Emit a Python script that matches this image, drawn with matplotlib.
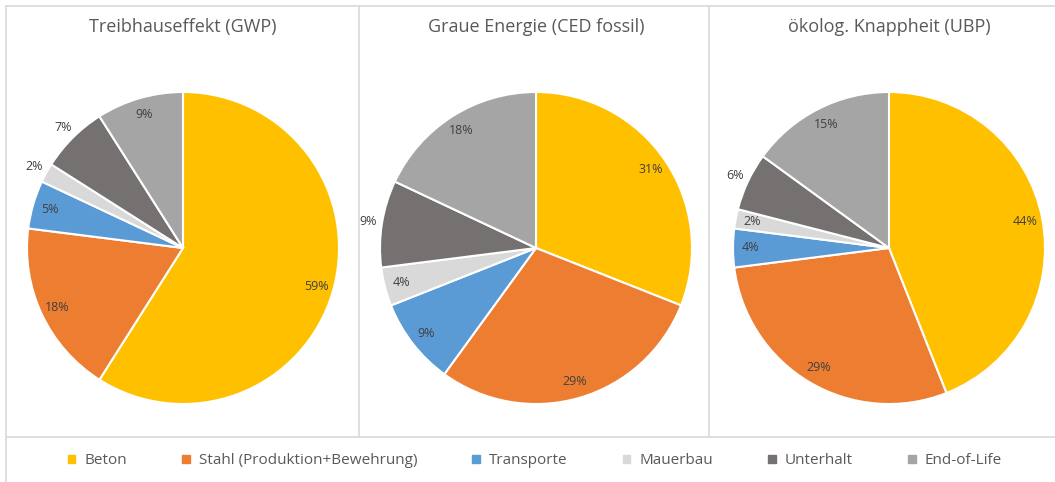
import matplotlib.pyplot as plt
from matplotlib.lines import Line2D
import numpy as np

plt.rcParams['font.family'] = ['Open Sans', 'DejaVu Sans']

categories = ["Beton", "Stahl (Produktion+Bewehrung)", "Transporte",
              "Mauerbau", "Unterhalt", "End-of-Life"]
titles = ["Treibhauseffekt (GWP)", "Graue Energie (CED fossil)",
          "ökolog. Knappheit (UBP)"]
gwp = [59, 18, 5, 2, 7, 9]
ced = [31, 29, 9, 4, 9, 18]
ubp = [44, 29, 4, 2, 6, 15]

colors = ["#FFC000", "#ED7D31", "#5B9BD5", "#D9D9D9", "#767171", "#A5A5A5"]
# labels drawn just outside the wedge (small slices)
outside = [[3, 4], [4], [4]]

W, H = 1055, 482
fig = plt.figure(figsize=(W / 100, H / 100), dpi=100)

# panel frame lines
frame = "#D9D9D9"
for (x0, y0, x1, y1) in [(6, 6, 1055, 6), (6, 6, 6, 482), (6, 437, 1055, 437),
                         (359, 6, 359, 437), (709, 6, 709, 437)]:
    fig.add_artist(Line2D([x0 / W, x1 / W], [1 - y0 / H, 1 - y1 / H],
                          color=frame, lw=1.2))

centers = [183, 536, 889]
cy, r = 248, 156
for vals, title, cx, out in zip([gwp, ced, ubp], titles, centers, outside):
    ax = fig.add_axes([(cx - r) / W, (H - cy - r) / H, 2 * r / W, 2 * r / H])
    wedges, _ = ax.pie(vals, colors=colors, startangle=90, counterclock=False,
                       wedgeprops=dict(edgecolor="white", linewidth=1.5))
    ax.set_xlim(-1, 1)
    ax.set_ylim(-1, 1)
    ax.set_aspect("equal")
    for i, (w, v) in enumerate(zip(wedges, vals)):
        ang = np.deg2rad((w.theta1 + w.theta2) / 2)
        d = 1.09 if i in out else 0.89
        ax.text(d * np.cos(ang), d * np.sin(ang), f"{v}%", ha="center",
                va="center", fontsize=9, color="#404040")
    fig.text(cx / W, 1 - 27 / H, title, ha="center", va="center",
             fontsize=13, color="#595959")

handles = [plt.Rectangle((0, 0), 1, 1, color=c) for c in colors]
fig.legend(handles, categories, loc="center", bbox_to_anchor=(0.507, 1 - 461 / H),
           ncol=6, frameon=False, fontsize=11, labelcolor="#595959",
           handlelength=0.5, handleheight=0.5, handletextpad=0.6,
           columnspacing=3.6)

fig.savefig("out.png", dpi=100)
